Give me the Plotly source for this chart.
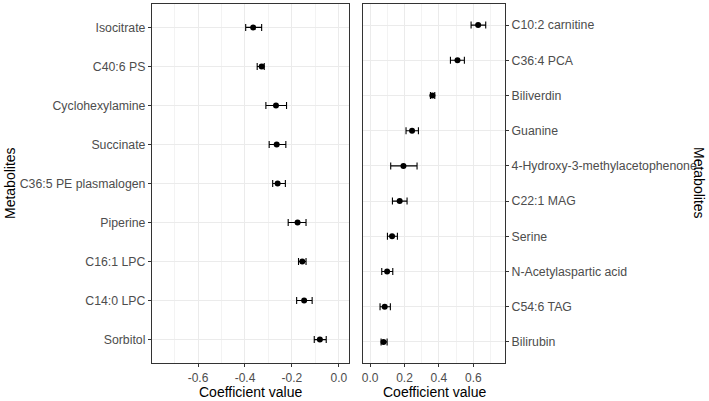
import plotly.graph_objects as go

# left panel: negative coefficients, listed top to bottom
left_names = ["Isocitrate", "C40:6 PS", "Cyclohexylamine", "Succinate", "C36:5 PE plasmalogen",
              "Piperine", "C16:1 LPC", "C14:0 LPC", "Sorbitol"]
left_coef = [-0.365, -0.329, -0.268, -0.265, -0.261, -0.176, -0.156, -0.148, -0.081]
left_lo = [-0.397, -0.348, -0.311, -0.297, -0.282, -0.216, -0.172, -0.180, -0.105]
left_hi = [-0.329, -0.318, -0.223, -0.226, -0.228, -0.140, -0.140, -0.114, -0.054]
left_ticks = [-0.6, -0.4, -0.2, 0.0]
left_ticktext = ["-0.6", "-0.4", "-0.2", "0.0"]

# right panel: positive coefficients, listed top to bottom
right_names = ["C10:2 carnitine", "C36:4 PCA", "Biliverdin", "Guanine",
               "4-Hydroxy-3-methylacetophenone", "C22:1 MAG", "Serine",
               "N-Acetylaspartic acid", "C54:6 TAG", "Bilirubin"]
right_coef = [0.628, 0.508, 0.362, 0.244, 0.194, 0.172, 0.128, 0.099, 0.085, 0.078]
right_lo = [0.587, 0.467, 0.351, 0.209, 0.120, 0.130, 0.101, 0.068, 0.058, 0.064]
right_hi = [0.672, 0.548, 0.376, 0.281, 0.273, 0.215, 0.159, 0.132, 0.118, 0.099]
right_ticks = [0.0, 0.2, 0.4, 0.6]
right_ticktext = ["0.0", "0.2", "0.4", "0.6"]

W, H = 709, 401
FONT = "Liberation Sans, Arial, sans-serif"
TICK = "#4D4D4D"
BORDER = "#333333"
GRID = "#EBEBEB"
GRID_MINOR = "#F3F3F3"


def px(x):
    return x / W


def py(y):
    return 1 - y / H


def point_trace(names, coef, lo, hi, xaxis, yaxis):
    return go.Scatter(
        x=coef, y=names, xaxis=xaxis, yaxis=yaxis, mode="markers",
        marker=dict(color="black", size=6),
        error_x=dict(type="data", symmetric=False,
                     array=[h - c for h, c in zip(hi, coef)],
                     arrayminus=[c - l for c, l in zip(coef, lo)],
                     color="black", thickness=1.1, width=3.5),
        showlegend=False, hoverinfo="skip",
    )


fig = go.Figure()
fig.add_trace(point_trace(left_names, left_coef, left_lo, left_hi, "x", "y"))
fig.add_trace(point_trace(right_names, right_coef, right_lo, right_hi, "x2", "y2"))

xcommon = dict(
    showgrid=True, gridcolor=GRID, gridwidth=1, zeroline=False,
    showline=True, linecolor=BORDER, linewidth=1.2, mirror=True,
    ticks="outside", ticklen=3, tickcolor=BORDER, tickwidth=1,
    tickfont=dict(family=FONT, size=12, color=TICK),
    tickmode="array",
    minor=dict(dtick=0.1, tick0=0, showgrid=True, gridcolor=GRID_MINOR, gridwidth=1, ticks=""),
)
ycommon = dict(
    type="category", showgrid=True, gridcolor=GRID, gridwidth=1, zeroline=False,
    showline=True, linecolor=BORDER, linewidth=1.2, mirror=True,
    ticks="outside", ticklen=3, tickcolor=BORDER, tickwidth=1,
    tickfont=dict(family=FONT, size=12.3, color=TICK),
)

title_font = dict(family=FONT, size=14, color="black")

fig.update_layout(
    width=W, height=H,
    margin=dict(l=0, r=0, t=0, b=0),
    paper_bgcolor="white", plot_bgcolor="white",
    font=dict(family=FONT, color="black"),
    xaxis=dict(xcommon, domain=[px(152), px(349)], range=[-0.796, 0.043], anchor="y",
               tickvals=left_ticks, ticktext=left_ticktext),
    yaxis=dict(ycommon, domain=[py(363), py(4)], anchor="x",
               categoryorder="array", categoryarray=left_names,
               range=[len(left_names) - 0.4, -0.6]),
    xaxis2=dict(xcommon, domain=[px(363), px(505)], range=[-0.041, 0.784], anchor="y2",
                tickvals=right_ticks, ticktext=right_ticktext),
    yaxis2=dict(ycommon, domain=[py(363), py(4)], anchor="x2", side="right",
                categoryorder="array", categoryarray=right_names,
                range=[len(right_names) - 0.4, -0.6]),
    annotations=[
        dict(text="Coefficient value", x=px(250), y=py(392), xref="paper", yref="paper",
             xanchor="center", yanchor="middle", showarrow=False, font=title_font),
        dict(text="Coefficient value", x=px(434), y=py(392), xref="paper", yref="paper",
             xanchor="center", yanchor="middle", showarrow=False, font=title_font),
        dict(text="Metabolites", x=px(10), y=py(183), xref="paper", yref="paper",
             xanchor="center", yanchor="middle", showarrow=False, textangle=-90, font=title_font),
        dict(text="Metabolites", x=px(699), y=py(183), xref="paper", yref="paper",
             xanchor="center", yanchor="middle", showarrow=False, textangle=90, font=title_font),
    ],
)

# the page's default body margin would shift the figure by 8px
fig.write_html("out.html", config={"displayModeBar": False},
               post_script="document.body.style.margin='0';")
